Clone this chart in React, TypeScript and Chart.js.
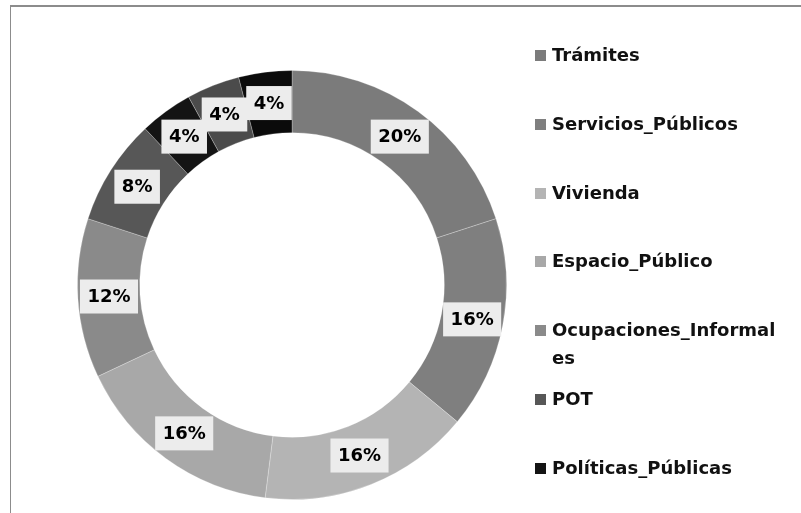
import React, { useEffect, useRef } from "react";
import { Chart, registerables } from "chart.js";

Chart.register(...registerables);

const categories = [
  "Trámites",
  "Servicios_Públicos",
  "Vivienda",
  "Espacio_Público",
  "Ocupaciones_Informales",
  "POT",
  "Políticas_Públicas",
  "Categoría_8",
  "Categoría_9",
];
const values = [20, 16, 16, 16, 12, 8, 4, 4, 4];
const colors = ["#7b7b7b", "#7f7f7f", "#b4b4b4", "#a8a8a8", "#8a8a8a", "#575757", "#141414", "#4b4b4b", "#0b0b0b"];
const legendCount = 7;

const FONT = "'DejaVu Sans', 'Open Sans', sans-serif";

const labelPlugin = {
  id: "sliceLabels",
  afterDatasetsDraw(chart: any) {
    const ctx = chart.ctx as CanvasRenderingContext2D;
    const meta = chart.getDatasetMeta(0);
    const data = chart.data.datasets[0].data as number[];
    const total = data.reduce((a, b) => a + b, 0);
    ctx.save();
    ctx.font = `bold 18px ${FONT}`;
    ctx.textAlign = "center";
    ctx.textBaseline = "middle";
    meta.data.forEach((arc: any, i: number) => {
      const p = arc.getProps(["x", "y", "startAngle", "endAngle", "innerRadius", "outerRadius"], true);
      const a = (p.startAngle + p.endAngle) / 2;
      const r = (p.innerRadius + p.outerRadius) / 2;
      const cx = p.x + r * Math.cos(a);
      const cy = p.y + r * Math.sin(a);
      const txt = Math.round((data[i] / total) * 100) + "%";
      const w = ctx.measureText(txt).width + 15;
      const h = 34;
      ctx.fillStyle = "#ececec";
      ctx.fillRect(cx - w / 2, cy - h / 2, w, h);
      ctx.fillStyle = "#000";
      ctx.fillText(txt, cx, cy + 1);
    });
    ctx.restore();
  },
};

export default function App() {
  const ref = useRef<HTMLCanvasElement | null>(null);

  useEffect(() => {
    if (!ref.current) return;
    const chart = new Chart(ref.current, {
      type: "doughnut",
      data: {
        labels: categories,
        datasets: [
          {
            data: values,
            backgroundColor: colors,
            borderColor: "rgba(255,255,255,0.25)",
            borderWidth: 1,
          },
        ],
      },
      options: {
        responsive: false,
        animation: false,
        cutout: "71%",
        layout: { padding: { left: 77, top: 70, right: 294, bottom: 13 } },
        plugins: {
          legend: { display: false },
          tooltip: { enabled: false },
        },
      },
      plugins: [labelPlugin],
    });
    return () => chart.destroy();
  }, []);

  const rowTop0 = 55;
  const rowStep = 68.8;

  return (
    <div style={{ position: "fixed", left: 0, top: 0, width: 801, height: 513, background: "#fff", overflow: "hidden" }}>
      <div style={{ position: "absolute", left: 10, top: 5, width: 791, height: 508, borderLeft: "1px solid #8c8c8c", borderTop: "2px solid #8c8c8c", boxSizing: "border-box" }} />
      <canvas ref={ref} width={801} height={513} style={{ position: "absolute", left: 0, top: 0 }} />
      {categories.slice(0, legendCount).map((c, i) => (
        <div
          key={c}
          style={{
            position: "absolute",
            left: 535,
            top: rowTop0 + rowStep * i - 14,
            width: 262,
            display: "flex",
            alignItems: "flex-start",
            fontFamily: FONT,
            fontWeight: 700,
            fontSize: 18,
            lineHeight: "28px",
            color: "#111",
          }}
        >
          <span style={{ display: "inline-block", width: 11, height: 11, background: colors[i], marginTop: 9, marginRight: 6, flex: "0 0 auto" }} />
          <span style={{ wordBreak: "break-all", width: 229 }}>{c}</span>
        </div>
      ))}
    </div>
  );
}
